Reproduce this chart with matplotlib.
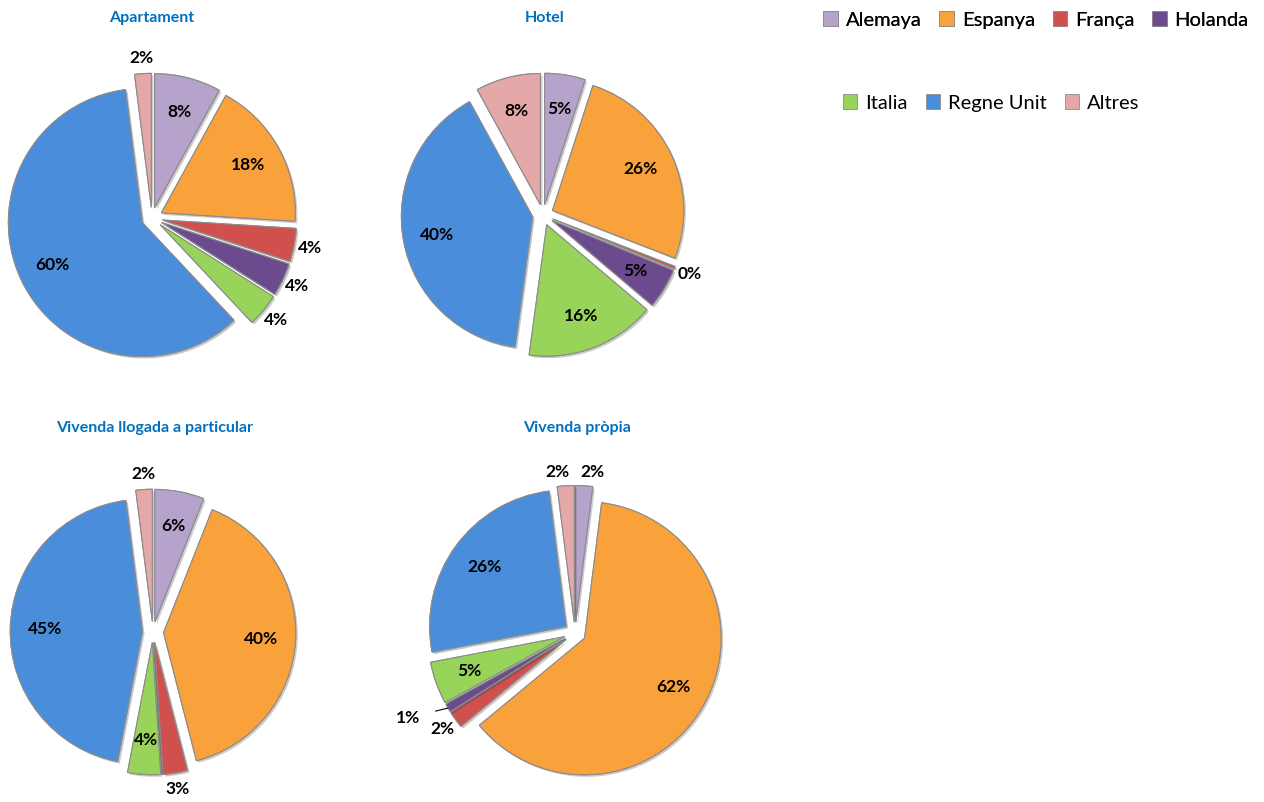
import matplotlib
matplotlib.use('Agg')
import matplotlib.pyplot as plt
import matplotlib.patheffects as pe
from matplotlib.patches import Patch
import numpy as np

# Data (percentages)
countries = ['Alemaya', 'Espanya', 'França', 'Holanda', 'Italia', 'Regne Unit', 'Altres']
titles = ['Apartament', 'Hotel', 'Vivenda llogada a particular', 'Vivenda pròpia']
apartament = [8, 18, 4, 4, 4, 60, 2]
hotel = [5, 26, 0.3, 5, 16, 40, 8]
vivenda_llogada = [6, 40, 3, 0, 4, 45, 2]
vivenda_propia = [2, 62, 2, 1, 5, 26, 2]

colors = ['#B5A3CC', '#F9A23C', '#D0504E', '#6B4A8E', '#98D45A', '#4A8EDB', '#E4A8A8']

plt.rcParams['font.family'] = ['Lato', 'DejaVu Sans']

W, H = 1264, 802
fig = plt.figure(figsize=(W / 100, H / 100), dpi=100)

# pixel centres / sizes of each pie and which slices get their label outside
centres = [(152, 218), (543, 215), (153, 632), (575, 633)]
sizes = [308, 302, 304, 314]
title_pos = [(152, 18), (545, 18), (155, 428), (577, 428)]
outside = [[2, 3, 4, 6], [2], [2, 6], [0, 2, 3, 6]]
nudge = {(3, 0): (0.05, -0.02), (3, 6): (-0.05, -0.02)}

for k, vals in enumerate([apartament, hotel, vivenda_llogada, vivenda_propia]):
    cx, cy = centres[k]
    S = sizes[k]
    ax = fig.add_axes([(cx - S / 2) / W, 1 - (cy + S / 2) / H, S / W, S / H])
    wedges, _ = ax.pie(vals, colors=colors, explode=[0.08] * len(vals), startangle=90,
                       counterclock=False,
                       wedgeprops=dict(edgecolor='#8c8c8c', linewidth=0.8))
    for w in wedges:
        w.set_path_effects([pe.withSimplePatchShadow(offset=(1.5, -1.5), alpha=0.25), pe.Normal()])
    ax.set_xlim(-1.15, 1.15)
    ax.set_ylim(-1.15, 1.15)
    ax.set_aspect('equal')
    ax.axis('off')

    for i, w in enumerate(wedges):
        if vals[i] == 0:
            continue
        th = np.deg2rad((w.theta1 + w.theta2) / 2)
        ox, oy = w.center
        lab = '%.0f%%' % vals[i]
        if k == 3 and i == 3:
            # small slice with a leader line
            ax.annotate(lab, xy=(ox + 1.0 * np.cos(th), oy + 1.0 * np.sin(th)),
                        xytext=(-1.22, -0.62), ha='center', va='center',
                        fontsize=12.5, fontweight='bold',
                        arrowprops=dict(arrowstyle='-', color='black', lw=0.8,
                                        shrinkA=9, shrinkB=0))
            continue
        r = 1.12 if i in outside[k] else 0.74
        dx, dy = nudge.get((k, i), (0, 0))
        ax.text(ox + r * np.cos(th) + dx, oy + r * np.sin(th) + dy, lab, ha='center', va='center',
                fontsize=12.5, fontweight='bold', color='black')

    tx, ty = title_pos[k]
    fig.text(tx / W, 1 - ty / H, titles[k], ha='center', va='center',
             fontsize=11.5, fontweight='bold', color='#0070C0')

handles = [Patch(facecolor=c, edgecolor='#8c8c8c', linewidth=0.6) for c in colors]
leg1 = fig.legend(handles[:4], countries[:4], loc='center', bbox_to_anchor=(1036 / W, 1 - 20 / H),
                  ncol=4, frameon=False, fontsize=14.5, handlelength=0.7, handleheight=0.7,
                  handletextpad=0.4, columnspacing=0.9)
fig.legend(handles[4:], countries[4:], loc='center', bbox_to_anchor=(991 / W, 1 - 103 / H),
           ncol=3, frameon=False, fontsize=14.5, handlelength=0.7, handleheight=0.7,
           handletextpad=0.4, columnspacing=0.9)
fig.add_artist(leg1)

fig.savefig('out.png', dpi=100, facecolor='white')
